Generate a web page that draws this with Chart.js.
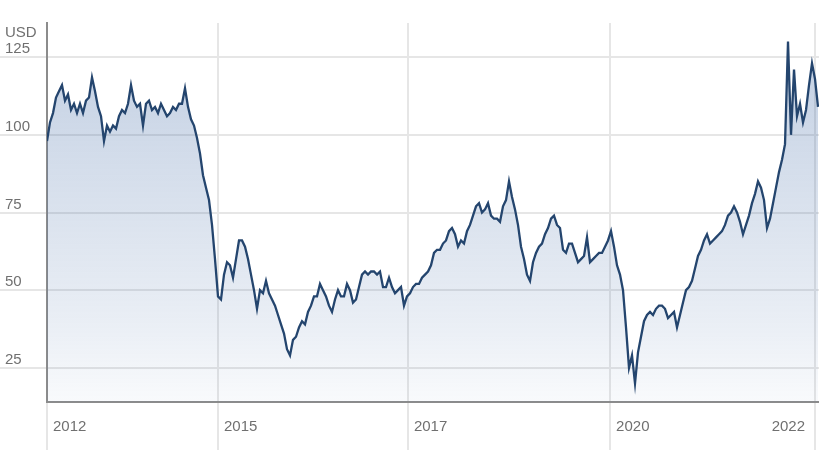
<!DOCTYPE html>
<html>
<head>
<meta charset="utf-8">
<script src="https://cdn.jsdelivr.net/npm/chart.js@4.4.1/dist/chart.umd.min.js"></script>
<style>
  html, body { margin: 0; padding: 0; background: #fff; }
  #wrap { width: 819px; height: 450px; position: relative; }
</style>
</head>
<body>
<div id="wrap"><canvas id="myChart"></canvas></div>
<script>
// Price, one value per step from mid 2012 to mid 2022
const prices = [
  98, 104, 107, 112, 114, 116, 111, 113, 108, 110,
  107, 110, 107, 111, 112, 118.5, 114, 109, 106, 98,
  103, 101, 103, 102, 106, 108, 107, 110, 116, 111,
  109, 110, 103, 110, 111, 108, 109, 107, 110, 108,
  106, 107, 109, 108, 110, 110, 115, 109, 105, 103,
  99, 94, 87, 83, 79, 71, 60, 48, 47, 55,
  59, 58, 54, 60, 66, 66, 64, 60, 55, 50,
  44, 50, 49, 53, 49, 47, 45, 42, 39, 36,
  31, 29, 34, 35, 38, 40, 39, 43, 45, 48,
  48, 52, 50, 48, 45, 43, 47, 50, 48, 48,
  52, 50, 46, 47, 51, 55, 56, 55, 56, 56,
  55, 56, 51, 51, 54, 51, 49, 50, 51, 45,
  48, 49, 51, 52, 52, 54, 55, 56, 58, 62,
  63, 63, 65, 66, 69, 70, 68, 64, 66, 65,
  69, 71, 74, 77, 78, 75, 76, 78, 74, 73,
  73, 72, 77, 79, 85, 80, 76, 71, 64, 60,
  55, 53, 59, 62, 64, 65, 68, 70, 73, 74,
  71, 70, 63, 62, 65, 65, 62, 59, 60, 61,
  67, 59, 60, 61, 62, 62, 64, 66, 69, 64,
  58, 55, 50, 38, 25, 29, 20, 30, 35, 40,
  42, 43, 42, 44, 45, 45, 44, 41, 42, 43,
  38, 42, 46, 50, 51, 53, 57, 61, 63, 66,
  68, 65, 66, 67, 68, 69, 71, 74, 75, 77,
  75, 72, 68, 71, 74, 78, 81, 85, 83, 79,
  70, 73, 78, 83, 88, 92, 97, 130, 100, 121,
  106, 110, 104, 108, 116, 123, 118, 109
];
const yearLabels = ['2012', '2015', '2017', '2020', '2022'];
const yearIndex = [0, 57, 120.3, 187.7, 256];
const priceTicks = [25, 50, 75, 100, 125];
const unitLabel = 'USD';

const textColor = '#707070';
const fontFamily = "'Liberation Sans', Arial, sans-serif";

Chart.defaults.font.family = fontFamily;
Chart.defaults.font.size = 15;
Chart.defaults.color = textColor;

// Year labels sit just right of their grid line, the last one is kept inside
const yearLabelPlugin = {
  id: 'yearLabels',
  afterDraw(chart) {
    const ctx = chart.ctx;
    const x = chart.scales.x;
    ctx.save();
    ctx.font = '15px ' + fontFamily;
    ctx.fillStyle = textColor;
    ctx.textBaseline = 'middle';
    ctx.textAlign = 'left';
    yearLabels.forEach(function(label, i) {
      let px = x.getPixelForValue(yearIndex[i]) + 6;
      const w = ctx.measureText(label).width;
      if (px + w > chart.width - 14) {
        px = chart.width - 14 - w;
      }
      ctx.fillText(label, px, x.top + 25);
    });
    ctx.fillText(unitLabel, 5, 33);
    ctx.restore();
  }
};

function areaGradient(context) {
  const area = context.chart.chartArea;
  if (!area) {
    return 'rgba(52,96,160,0.2)';
  }
  const g = context.chart.ctx.createLinearGradient(0, area.top, 0, area.bottom);
  g.addColorStop(0, 'rgba(52,96,160,0.31)');
  g.addColorStop(0.5, 'rgba(52,96,160,0.18)');
  g.addColorStop(0.8, 'rgba(52,96,160,0.10)');
  g.addColorStop(1, 'rgba(52,96,160,0.03)');
  return g;
}

const ctx = document.getElementById('myChart').getContext('2d');
const chart = new Chart(ctx, {
  type: 'line',
  data: {
    datasets: [{
      data: prices.map(function(v, i) { return { x: i, y: v }; }),
      borderColor: '#24456e',
      borderWidth: 2.3,
      backgroundColor: areaGradient,
      fill: 'start',
      pointRadius: 0,
      tension: 0
    }]
  },
  options: {
    responsive: true,
    maintainAspectRatio: false,
    animation: false,
    layout: { padding: { top: 23, left: 5, right: 0, bottom: 0 } },
    plugins: {
      legend: { display: false },
      tooltip: { enabled: false }
    },
    scales: {
      x: {
        type: 'linear',
        min: 0,
        max: 257.33,
        afterBuildTicks: function(scale) {
          scale.ticks = yearIndex.map(function(v) { return { value: v }; });
        },
        ticks: { display: false },
        grid: { color: '#e6e6e6', lineWidth: 2, tickLength: 48 },
        border: { color: '#8c8c8c', width: 2 }
      },
      y: {
        min: 14,
        max: 136,
        afterBuildTicks: function(scale) {
          scale.ticks = priceTicks.map(function(v) { return { value: v }; });
        },
        afterFit: function(scale) {
          scale.width = 42;
        },
        ticks: {
          crossAlign: 'far',
          labelOffset: -8,
          color: textColor,
          font: { size: 15 }
        },
        grid: { color: '#e6e6e6', lineWidth: 2, tickLength: 47 },
        border: { color: '#8c8c8c', width: 2 }
      }
    }
  },
  plugins: [yearLabelPlugin]
});
</script>
</body>
</html>
